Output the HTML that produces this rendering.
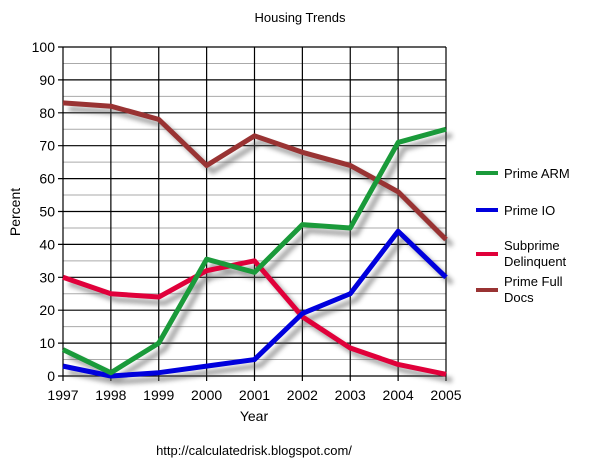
<!DOCTYPE html>
<html><head><style>body{margin:0;background:#fff}svg{display:block}text{font-family:"Liberation Sans",Arial,sans-serif;fill:#000}</style></head>
<body>
<svg width="600" height="463" xmlns="http://www.w3.org/2000/svg">
<defs><filter id="b" x="-10%" y="-10%" width="120%" height="120%"><feGaussianBlur stdDeviation="2.5"/></filter></defs>
<text x="300" y="22" font-size="13" text-anchor="middle">Housing Trends</text>
<g id="grid"></g>
<g id="shadows" filter="url(#b)" opacity="0.55"></g>
<g id="lines"></g>
<g id="labels" font-size="14"></g>
<text x="254" y="421" font-size="14" text-anchor="middle">Year</text>
<text x="20" y="212" font-size="14" text-anchor="middle" transform="rotate(-90 20 212)">Percent</text>
<text x="254" y="455" font-size="13" text-anchor="middle">http://calculatedrisk.blogspot.com/</text>
<g font-size="13">
<line x1="476" y1="173" x2="498" y2="173" stroke="#1a9a3a" stroke-width="4"/><text x="504" y="178">Prime ARM</text>
<line x1="476" y1="210" x2="498" y2="210" stroke="#0000dd" stroke-width="4"/><text x="504" y="215">Prime IO</text>
<line x1="476" y1="254" x2="498" y2="254" stroke="#e0003a" stroke-width="4"/><text x="504" y="250">Subprime</text><text x="504" y="266">Delinquent</text>
<line x1="476" y1="290" x2="498" y2="290" stroke="#993333" stroke-width="4"/><text x="504" y="286">Prime Full</text><text x="504" y="302">Docs</text>
</g>
</svg>
<script>
const L=63,R=446,T=47,B=376,ns="http://www.w3.org/2000/svg";
const X=i=>L+i*(R-L)/8,Y=v=>B-v*(B-T)/100;
function el(p,t,a){const e=document.createElementNS(ns,t);for(const k in a)e.setAttribute(k,a[k]);document.getElementById(p).appendChild(e);return e;}
for(let v=5;v<100;v+=10)el("grid","line",{x1:L,x2:R,y1:Y(v),y2:Y(v),stroke:"#aaa","stroke-width":1});
for(let v=0;v<=100;v+=10){el("grid","line",{x1:L-5,x2:R,y1:Y(v),y2:Y(v),stroke:"#000","stroke-width":1.2});
const t=el("labels","text",{x:L-8,y:Y(v)+5,"text-anchor":"end"});t.textContent=v;}
for(let i=0;i<=8;i++){el("grid","line",{x1:X(i),x2:X(i),y1:T,y2:B+5,stroke:"#000","stroke-width":1.2});
const t=el("labels","text",{x:X(i),y:B+24,"text-anchor":"middle"});t.textContent=1997+i;}
const S=[["#993333",[83,82,78,64,73,68,64,56,41.5]],["#e0003a",[30,25,24,32,35,18,8.5,3.5,0.5]],["#0000dd",[3,0,1,3,5,19,25,44,30]],["#1a9a3a",[8,1,10,35.5,31.5,46,45,71,75]]];
for(const [c,d] of S){const p=d.map((v,i)=>X(i)+","+Y(v)).join(" ");
const ps=d.map((v,i)=>(X(i)+6)+","+(Y(v)+6)).join(" ");
el("shadows","polyline",{points:ps,fill:"none",stroke:"#555","stroke-width":5,"stroke-linejoin":"round"});
el("lines","polyline",{points:p,fill:"none",stroke:c,"stroke-width":5,"stroke-linejoin":"round"});}
</script>
</body></html>
